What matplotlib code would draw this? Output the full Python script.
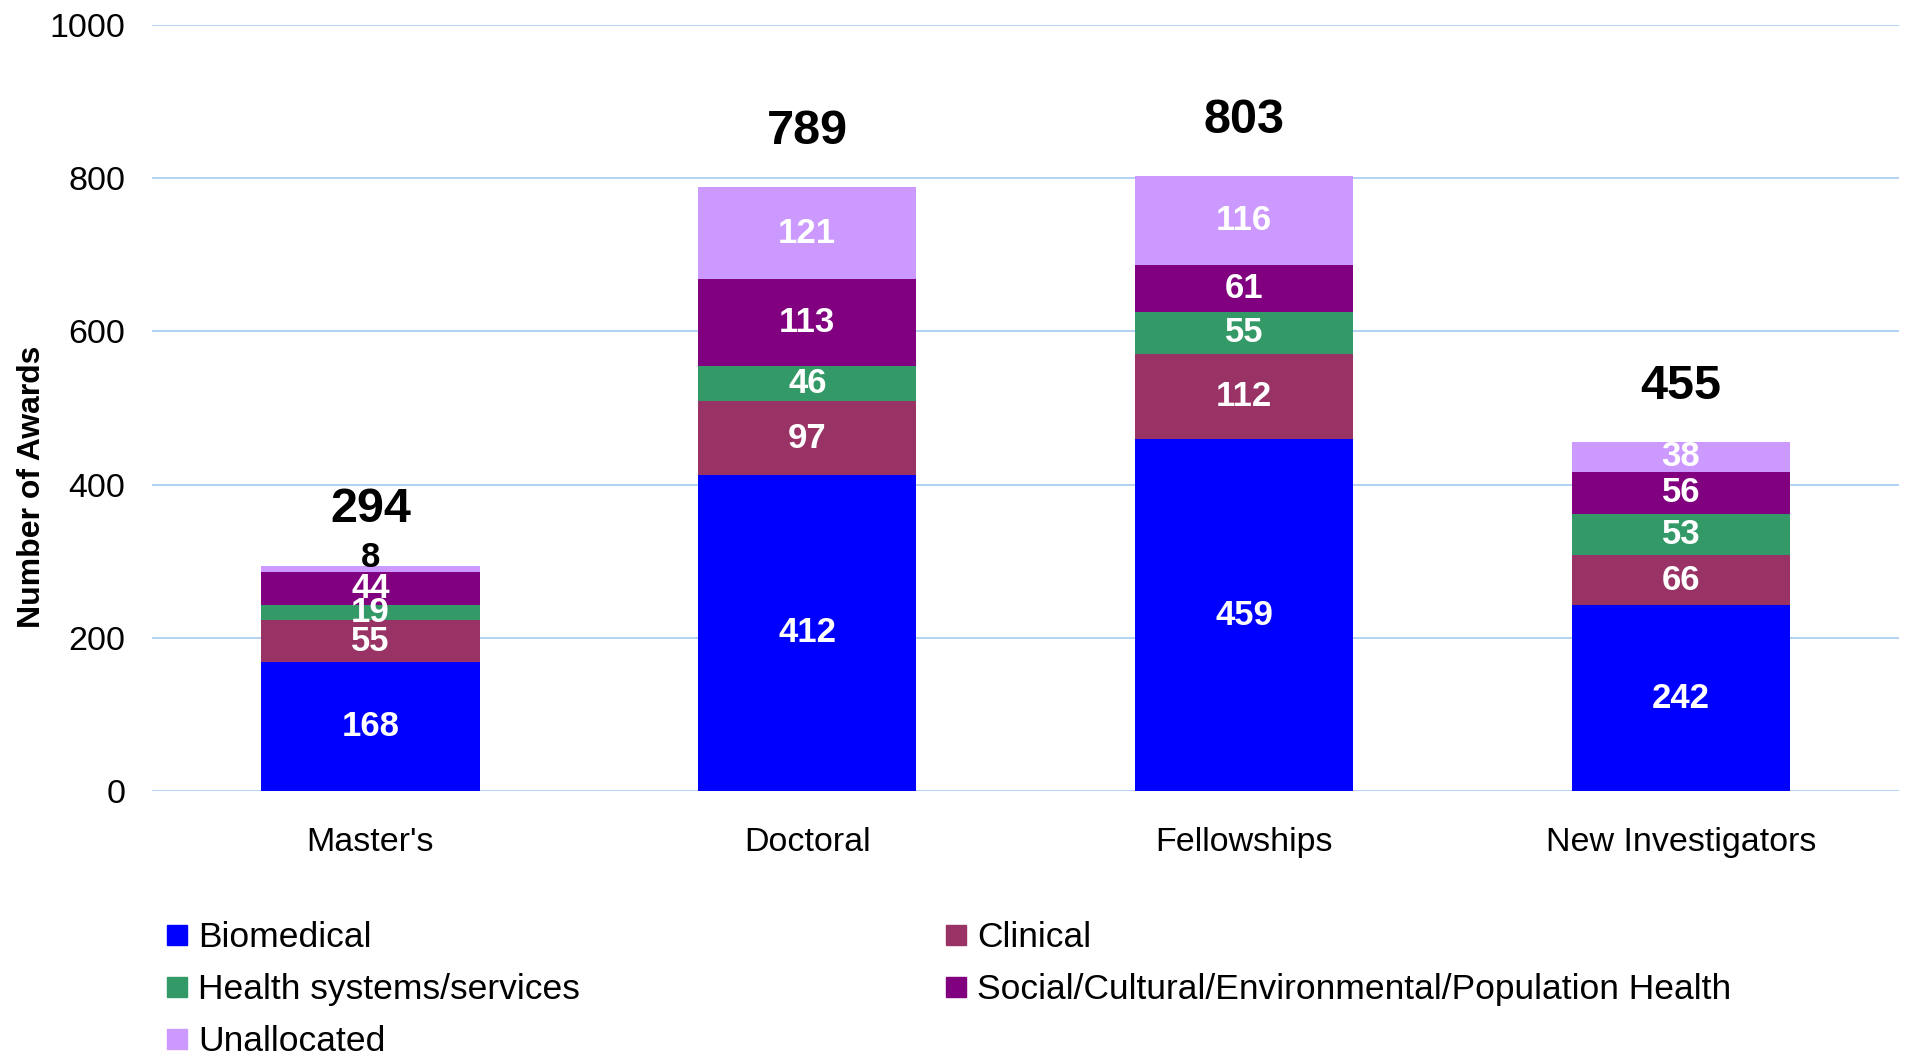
import matplotlib.pyplot as plt
from matplotlib.lines import Line2D
import numpy as np

plt.rcParams['font.family'] = ['Liberation Sans', 'DejaVu Sans']

categories = ["Master's", "Doctoral", "Fellowships", "New Investigators"]
series_names = ['Biomedical', 'Clinical', 'Health systems/services',
                'Social/Cultural/Environmental/Population Health', 'Unallocated']
biomedical = [168, 412, 459, 242]
clinical = [55, 97, 112, 66]
health_systems = [19, 46, 55, 53]
social = [44, 113, 61, 56]
unallocated = [8, 121, 116, 38]
totals = [294, 789, 803, 455]

colors = ['#0000FF', '#993366', '#339966', '#800080', '#CC99FF']
series = [biomedical, clinical, health_systems, social, unallocated]

fig = plt.figure(figsize=(19.07, 10.57), dpi=100)
ax = fig.add_axes([0.0797, 0.252, 0.9163, 0.724])

x = np.arange(len(categories))
bottom = np.zeros(len(categories))
for name, vals, col in zip(series_names, series, colors):
    vals = np.array(vals, dtype=float)
    ax.bar(x, vals, width=0.5, bottom=bottom, color=col, label=name, zorder=2)
    for i, v in enumerate(vals):
        if v < 15:
            # too thin: label sits just above the segment in black
            ax.text(x[i], bottom[i] + v + 10, f"{int(v)}", ha='center', va='center',
                    fontsize=25, fontweight='bold', color='black', zorder=3)
        else:
            ax.text(x[i], bottom[i] + v / 2, f"{int(v)}", ha='center', va='center',
                    fontsize=25, fontweight='bold', color='white', zorder=3)
    bottom += vals

for i, t in enumerate(totals):
    ax.annotate(f"{t}", (x[i], t), xytext=(0, 24), textcoords='offset points',
                ha='center', va='bottom', fontsize=35, fontweight='bold')

ax.set_xlim(-0.5, len(categories) - 0.5)
ax.set_ylim(0, 1000)
ax.set_yticks(np.arange(0, 1001, 200))
ax.set_xticks(x)
ax.set_xticklabels(categories)
ax.tick_params(axis='both', length=0, labelsize=24.5)
ax.tick_params(axis='y', pad=19)
ax.tick_params(axis='x', pad=26)
ax.yaxis.grid(True, color='#A6CAF0', linewidth=1.2, zorder=0)
ax.set_axisbelow(True)
for s in ax.spines.values():
    s.set_visible(False)

ax.set_ylabel('Number of Awards', fontsize=23, fontweight='bold')
ax.yaxis.set_label_coords(-0.060, 0.397)

order = [0, 2, 4, 1, 3]
handles = [Line2D([0], [0], marker='s', linestyle='none', markersize=14,
                  markerfacecolor=colors[k], markeredgecolor=colors[k]) for k in order]
labels = [series_names[k] for k in order]
fig.legend(handles, labels, ncol=2, loc='upper left', bbox_to_anchor=(0.078, 0.142),
           frameon=False, fontsize=25.5, handlelength=0.8, handletextpad=0.2,
           columnspacing=10.2, labelspacing=0.54, borderaxespad=0)

fig.savefig('out.png', dpi=100)
